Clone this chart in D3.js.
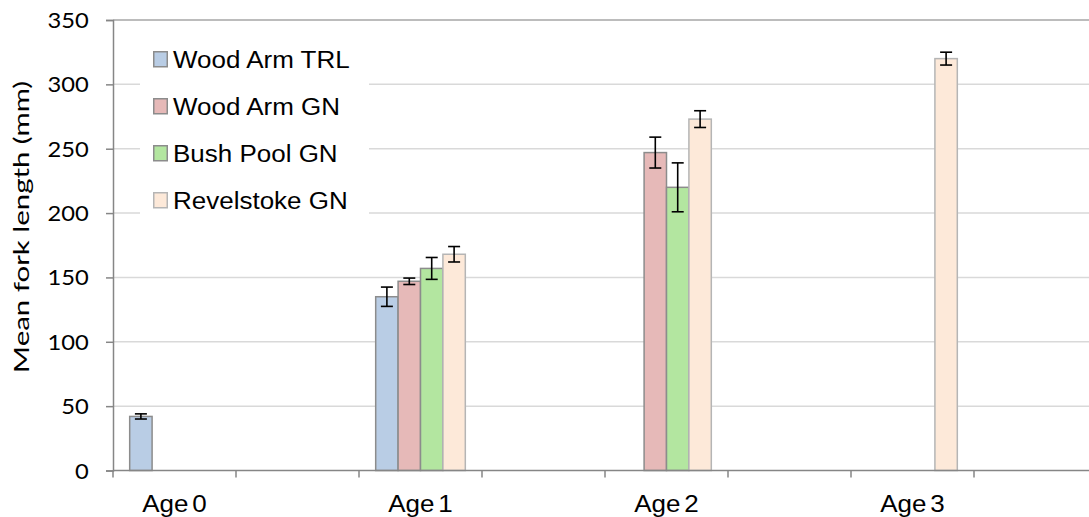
<!DOCTYPE html>
<html>
<head>
<meta charset="utf-8">
<script src="https://cdn.jsdelivr.net/npm/d3@7"></script>
<style>
  html, body { margin: 0; padding: 0; background: #fff; overflow: hidden; }
  svg { display: block; }
</style>
</head>
<body>
<svg id="chart" width="1089" height="517"></svg>
<script>
// categories on the x axis (every other slot is empty, as in the source sheet)
const categories = ['Age 0', '', 'Age 1', '', 'Age 2', '', 'Age 3', '']
const seriesNames = ['Wood Arm TRL', 'Wood Arm GN', 'Bush Pool GN', 'Revelstoke GN']

// mean fork length (mm), null = no data
const woodArmTRL   = [42, null, 135, null, null, null, null, null]
const woodArmGN    = [null, null, 147, null, 247, null, null, null]
const bushPoolGN   = [null, null, 157, null, 220, null, null, null]
const revelstokeGN = [null, null, 168, null, 273, null, 320, null]

// error bar half-widths (mm)
const woodArmTRLErr   = [2, null, 7.5, null, null, null, null, null]
const woodArmGNErr    = [null, null, 2.5, null, 12, null, null, null]
const bushPoolGNErr   = [null, null, 8.5, null, 19, null, null, null]
const revelstokeGNErr = [null, null, 6, null, 6.5, null, 5, null]

const yTicks = [0, 50, 100, 150, 200, 250, 300, 350]

const fills = ['#b9cde5', '#e6b9b8', '#b3e6a0', '#fde9d9']
const strokes = ['#8c8c8c', '#8c8c8c', '#8c8c8c', '#b5b5b5']

const values = [woodArmTRL, woodArmGN, bushPoolGN, revelstokeGN]
const errors = [woodArmTRLErr, woodArmGNErr, bushPoolGNErr, revelstokeGNErr]

// flat table of bars
let bars = []
values.forEach((vals, s) => {
	vals.forEach((v, c) => {
		if (v != null) bars.push({cat: c, series: s, value: v, err: errors[s][c]})
	})
})

const stretch = 'scale(1.13,1)'
const svg = d3.select('#chart')

const x0 = d3.scaleBand()
	.domain(d3.range(categories.length))
	.range([113, 1097])
	.padding(0)

const x1 = d3.scaleBand()
	.domain(d3.range(seriesNames.length))
	.range([0, x0.bandwidth()])
	.paddingInner(0)
	.paddingOuter(0.745)

const y = d3.scaleLinear()
	.domain([0, 350])
	.range([470.5, 20])

// gridlines
svg.append('g')
	.selectAll('line')
	.data(yTicks.filter(d => d > 0))
	.join('line')
		.attr('x1', 113)
		.attr('x2', 1089)
		.attr('y1', d => y(d))
		.attr('y2', d => y(d))
		.attr('stroke', d => d == 350 ? '#a6a6a6' : '#d9d9d9')
		.attr('stroke-width', 1.5)

// legend box (white, hides gridlines behind it)
const legend = svg.append('g')
legend.append('rect')
	.attr('x', 140)
	.attr('y', 30)
	.attr('width', 229)
	.attr('height', 196)
	.attr('fill', '#fff')

legend.selectAll('g.item')
	.data(seriesNames)
	.join('g')
		.attr('class', 'item')
		.attr('transform', (d, i) => `translate(153,${51 + i * 47})`)
		.each(function(d, i) {
			let g = d3.select(this)
			g.append('rect')
				.attr('x', 0.75)
				.attr('y', 0.75)
				.attr('width', 13.5)
				.attr('height', 15)
				.attr('fill', fills[i])
				.attr('stroke', strokes[i])
				.attr('stroke-width', 1.5)
			g.append('text')
				.attr('transform', `translate(20,17) ${stretch}`)
				.attr('font-family', 'Liberation Sans, Arial, sans-serif')
				.attr('font-size', 23)
				.attr('fill', '#000')
				.text(d)
		})

// bars
svg.append('g')
	.selectAll('rect')
	.data(bars)
	.join('rect')
		.attr('x', d => x0(d.cat) + x1(d.series))
		.attr('y', d => y(d.value))
		.attr('width', x1.bandwidth())
		.attr('height', d => y(0) - y(d.value))
		.attr('fill', d => fills[d.series])
		.attr('stroke', d => strokes[d.series])
		.attr('stroke-width', 1.5)

// error bars
const eb = svg.append('g')
	.attr('stroke', '#000')
	.attr('stroke-width', 1.6)
	.selectAll('g')
	.data(bars)
	.join('g')
		.attr('transform', d => `translate(${x0(d.cat) + x1(d.series) + x1.bandwidth() / 2},0)`)
eb.append('line')
	.attr('y1', d => y(d.value + d.err))
	.attr('y2', d => y(d.value - d.err))
eb.append('line')
	.attr('x1', -6).attr('x2', 6)
	.attr('y1', d => y(d.value + d.err))
	.attr('y2', d => y(d.value + d.err))
eb.append('line')
	.attr('x1', -6).attr('x2', 6)
	.attr('y1', d => y(d.value - d.err))
	.attr('y2', d => y(d.value - d.err))

// y axis
const yAxis = svg.append('g')
	.attr('transform', 'translate(113,0)')
	.call(d3.axisLeft(y).tickValues(yTicks).tickSize(7).tickPadding(0))
yAxis.select('.domain').attr('stroke', '#868686').attr('stroke-width', 1.5)
yAxis.selectAll('.tick line').attr('stroke', '#868686').attr('stroke-width', 1.5)
yAxis.selectAll('.tick text')
	.attr('x', -21.5)
	.attr('dy', '0.36em')
	.attr('transform', stretch)
	.attr('font-family', 'Lato, sans-serif')
	.attr('font-size', 21)
	.attr('fill', '#000')

// x axis
const xAxis = svg.append('g')
	.attr('transform', `translate(0,${y(0)})`)
xAxis.append('line')
	.attr('x1', 113).attr('x2', 1089)
	.attr('stroke', '#868686').attr('stroke-width', 1.5)
xAxis.selectAll('line.tick')
	.data(d3.range(categories.length))
	.join('line')
		.attr('class', 'tick')
		.attr('x1', d => x0(d)).attr('x2', d => x0(d))
		.attr('y1', 0).attr('y2', 7)
		.attr('stroke', '#868686').attr('stroke-width', 1.5)
xAxis.selectAll('text')
	.data(categories.map((c, i) => ({c, i})).filter(d => d.c))
	.join('text')
		.attr('transform', d => `translate(${x0(d.i) + x0.bandwidth() / 2},41) ${stretch}`)
		.attr('text-anchor', 'middle')
		.attr('font-family', 'Liberation Sans, Arial, sans-serif')
		.attr('font-size', 23)
		.attr('word-spacing', -3)
		.attr('fill', '#000')
		.text(d => d.c)

// y axis title (wider than the tick font in the source, so stretched along its length)
svg.append('text')
	.attr('transform', 'translate(29,227) rotate(-90) scale(1.4,1.05)')
	.attr('text-anchor', 'middle')
	.attr('font-family', 'Lato, sans-serif')
	.attr('font-size', 21)
	.attr('fill', '#000')
	.text('Mean fork length (mm)')
</script>
</body>
</html>
